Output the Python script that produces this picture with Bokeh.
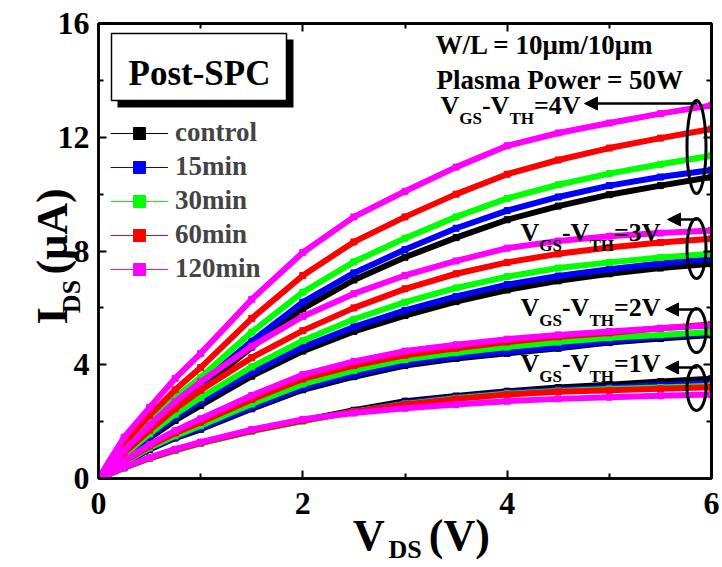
import math

from bokeh.plotting import figure
from bokeh.models import (Range1d, LinearAxis, FixedTicker, Legend, LegendItem,
                          Label, BoxAnnotation, Arrow, NormalHead)
from bokeh.embed import file_html
from bokeh.resources import INLINE

# ---------------------------------------------------------------- data
# drain voltage samples (V)
vds = [0, 0.25, 0.5, 0.75, 1.0, 1.5, 2.0, 2.5, 3.0, 3.5, 4.0, 4.5, 5.0, 5.5, 6.0]

conditions = ["control", "15min", "30min", "60min", "120min"]
colors = ["#000000", "#0000ff", "#00ff00", "#ff0000", "#ff00ff"]

# drain current I_DS (uA), V_GS - V_TH = 4 V
ids_4v_control = [0, 1.00, 1.80, 2.52, 3.15, 4.62, 5.97, 6.98, 7.78, 8.47, 9.10, 9.58, 9.98, 10.30, 10.60]
ids_4v_15min = [0, 1.05, 1.90, 2.67, 3.33, 4.83, 6.20, 7.23, 8.05, 8.80, 9.42, 9.90, 10.30, 10.60, 10.85]
ids_4v_30min = [0, 1.12, 2.03, 2.85, 3.56, 5.15, 6.55, 7.62, 8.45, 9.20, 9.85, 10.33, 10.72, 11.05, 11.35]
ids_4v_60min = [0, 1.25, 2.22, 3.12, 3.90, 5.63, 7.14, 8.32, 9.20, 10.00, 10.70, 11.20, 11.62, 11.97, 12.29]
ids_4v_120min = [0, 1.45, 2.50, 3.52, 4.40, 6.30, 7.95, 9.20, 10.10, 10.95, 11.70, 12.15, 12.50, 12.83, 13.12]

# V_GS - V_TH = 3 V
ids_3v_control = [0, 0.75, 1.42, 2.04, 2.57, 3.60, 4.48, 5.17, 5.73, 6.22, 6.63, 6.95, 7.20, 7.40, 7.55]
ids_3v_15min = [0, 0.78, 1.48, 2.14, 2.70, 3.73, 4.62, 5.33, 5.91, 6.40, 6.82, 7.12, 7.36, 7.56, 7.72]
ids_3v_30min = [0, 0.83, 1.57, 2.26, 2.85, 3.93, 4.85, 5.60, 6.20, 6.70, 7.10, 7.40, 7.60, 7.77, 7.90]
ids_3v_60min = [0, 0.90, 1.70, 2.45, 3.10, 4.25, 5.20, 6.00, 6.67, 7.20, 7.60, 7.90, 8.12, 8.30, 8.43]
ids_3v_120min = [0, 0.98, 1.87, 2.70, 3.40, 4.65, 5.70, 6.50, 7.14, 7.65, 8.10, 8.35, 8.52, 8.63, 8.72]

# V_GS - V_TH = 2 V
ids_2v_control = [0, 0.54, 1.02, 1.42, 1.73, 2.45, 3.12, 3.58, 3.97, 4.22, 4.40, 4.58, 4.78, 4.92, 5.05]
ids_2v_15min = [0, 0.55, 1.04, 1.45, 1.77, 2.50, 3.18, 3.65, 4.03, 4.28, 4.45, 4.62, 4.83, 4.98, 5.10]
ids_2v_30min = [0, 0.57, 1.08, 1.50, 1.86, 2.62, 3.32, 3.80, 4.18, 4.42, 4.62, 4.80, 4.95, 5.05, 5.15]
ids_2v_60min = [0, 0.60, 1.14, 1.60, 1.98, 2.78, 3.50, 3.97, 4.33, 4.58, 4.80, 4.98, 5.12, 5.28, 5.42]
ids_2v_120min = [0, 0.62, 1.20, 1.68, 2.10, 2.92, 3.65, 4.12, 4.48, 4.70, 4.90, 5.05, 5.17, 5.28, 5.38]

# V_GS - V_TH = 1 V
ids_1v_control = [0, 0.38, 0.72, 1.00, 1.25, 1.68, 2.04, 2.40, 2.72, 2.90, 3.07, 3.20, 3.30, 3.41, 3.51]
ids_1v_15min = [0, 0.38, 0.72, 1.00, 1.25, 1.68, 2.03, 2.37, 2.66, 2.86, 3.02, 3.12, 3.20, 3.28, 3.36]
ids_1v_30min = [0, 0.37, 0.71, 0.99, 1.24, 1.67, 2.02, 2.35, 2.62, 2.82, 2.98, 3.08, 3.15, 3.20, 3.26]
ids_1v_60min = [0, 0.38, 0.72, 1.00, 1.25, 1.68, 2.04, 2.35, 2.60, 2.80, 2.95, 3.05, 3.10, 3.16, 3.21]
ids_1v_120min = [0, 0.39, 0.74, 1.03, 1.28, 1.72, 2.08, 2.30, 2.47, 2.60, 2.72, 2.80, 2.86, 2.91, 2.95]

families = [
    [ids_4v_control, ids_3v_control, ids_2v_control, ids_1v_control],
    [ids_4v_15min, ids_3v_15min, ids_2v_15min, ids_1v_15min],
    [ids_4v_30min, ids_3v_30min, ids_2v_30min, ids_1v_30min],
    [ids_4v_60min, ids_3v_60min, ids_2v_60min, ids_1v_60min],
    [ids_4v_120min, ids_3v_120min, ids_2v_120min, ids_1v_120min],
]

x_ticks, x_minor = [0, 2, 4, 6], [1, 3, 5]
y_ticks, y_minor = [0, 4, 8, 12, 16], [2, 6, 10, 14]

# ---------------------------------------------------------------- figure
W, H = 722, 567
B_LEFT, B_RIGHT, B_TOP, B_BOTTOM = 98, 11, 23, 89
PX_PER_V = (W - B_LEFT - B_RIGHT) / 6.0
PX_PER_UA = (H - B_TOP - B_BOTTOM) / 16.0
SERIF = "Liberation Serif"
NB = "\u00a0"

p = figure(width=W, height=H, x_range=Range1d(0, 6), y_range=Range1d(0, 16),
           output_backend="svg", toolbar_location=None,
           min_border_left=B_LEFT, min_border_right=B_RIGHT,
           min_border_top=B_TOP, min_border_bottom=B_BOTTOM)
p.xgrid.visible = False
p.ygrid.visible = False
p.outline_line_color = "black"
p.outline_line_width = 2.5
p.background_fill_color = "white"
p.border_fill_color = "white"


def frame_axis(ax, tick_in, minor_in):
    ax.axis_line_width = 2.5
    ax.major_tick_line_width = 2
    ax.minor_tick_line_width = 2
    ax.major_tick_in = tick_in
    ax.major_tick_out = 0
    ax.minor_tick_in = minor_in
    ax.minor_tick_out = 0
    ax.major_label_standoff = 0


# bottom / left axes with labelled major ticks
bx, ly = p.below[0], p.left[0]
bx.ticker = FixedTicker(ticks=x_ticks, minor_ticks=x_minor)
ly.ticker = FixedTicker(ticks=y_ticks, minor_ticks=y_minor)
for ax in (bx, ly):
    frame_axis(ax, 8, 5)
    ax.major_label_text_font = SERIF
    ax.major_label_text_font_style = "bold"
    ax.major_label_text_font_size = "32px"
    ax.major_label_text_color = "black"
bx.major_label_standoff = 14
ly.major_label_standoff = 9

# mirrored tick marks on the top and right edges (no labels)
for side, major, minor in (("above", x_ticks, x_minor), ("right", y_ticks, y_minor)):
    long_ax = LinearAxis(ticker=FixedTicker(ticks=[], minor_ticks=major))
    frame_axis(long_ax, 8, 8)
    short_ax = LinearAxis(ticker=FixedTicker(ticks=[], minor_ticks=minor))
    frame_axis(short_ax, 5, 5)
    p.add_layout(long_ax, side)
    p.add_layout(short_ax, side)


def title_axis(side, label, size, standoff):
    ax = LinearAxis(ticker=FixedTicker(ticks=[]), axis_label=label,
                    axis_label_standoff=standoff,
                    axis_label_text_font=SERIF,
                    axis_label_text_font_style="bold",
                    axis_label_text_font_size=f"{size}px",
                    axis_label_text_color="black",
                    axis_line_color=None, major_tick_line_color=None,
                    minor_tick_line_color=None, major_label_standoff=0)
    p.add_layout(ax, side)


# axis titles: V_DS (V) and I_DS (uA), subscripts on their own rows
title_axis("below", NB * 3 + "V" + NB * 4 + "(V)", 44, -6)
title_axis("below", "DS", 26, -28)
title_axis("left", "DS" + NB * 14, 26, -31)
title_axis("left", "I" + NB * 3 + "(\u03bcA)" + NB, 44, -23)

# ---------------------------------------------------------------- curves
legend_items = []
for cond, color, curves in zip(conditions, colors, families):
    thin = None
    marks = None
    for ids in curves:
        ln = p.line(vds, ids, line_color=color, line_width=1.2)
        p.line(vds, ids, line_color=color, line_width=6, line_join="round")
        sq = p.scatter(vds, ids, marker="square", size=6,
                       fill_color=color, line_color=color)
        if thin is None:
            thin, marks = ln, sq
    legend_items.append(LegendItem(label=cond, renderers=[thin, marks]))

legend = Legend(items=legend_items, location=(12, 194),
                glyph_width=58, glyph_height=30, label_height=30,
                spacing=3, padding=0, margin=0, label_standoff=7,
                border_line_color=None, background_fill_alpha=0,
                label_text_font=SERIF, label_text_font_style="bold",
                label_text_font_size="27px")
p.add_layout(legend)


# ---------------------------------------------------------------- annotations
def dx(px):
    return px / PX_PER_V


def dy(px):
    return px / PX_PER_UA


def sx(px):
    return (px - B_LEFT) / PX_PER_V


def sy(px):
    return (H - B_BOTTOM - px) / PX_PER_UA


def text(x, base_px, s, size, align="left"):
    # base_px: baseline position in pixels from the top of the canvas
    p.add_layout(Label(x=x, y=sy(base_px - 0.32 * size), text=s, text_font=SERIF,
                       text_font_style="bold", text_font_size=f"{size}px",
                       text_color="black", text_baseline="alphabetic",
                       text_align=align))


EM = {"V": 0.722, "G": 0.778, "S": 0.556, "-": 0.333, "T": 0.667, "H": 0.778,
      "=": 0.570, "1": 0.5, "2": 0.5, "3": 0.5, "4": 0.5}


def overdrive_label(x, base_px, volts):
    parts = [("V", 26, 0), ("GS", 17, 10), ("-V", 26, 0), ("TH", 17, 10),
             (f"={volts}V", 26, 0)]
    for s, size, drop in parts:
        text(x, base_px + drop, s, size)
        x += dx(sum(EM[c] for c in s) * size)


# sample label box with drop shadow
p.add_layout(BoxAnnotation(left=sx(117), right=sx(293), top=sy(39), bottom=sy(107),
                           fill_color="black", fill_alpha=1, line_color=None))
p.add_layout(BoxAnnotation(left=sx(111), right=sx(286), top=sy(33), bottom=sy(100),
                           fill_color="white", fill_alpha=1,
                           line_color="black", line_alpha=1, line_width=1.5))
text(sx(199), 84, "Post-SPC", 35, align="center")

text(sx(435), 53, "W/L = 10\u03bcm/10\u03bcm", 27)
text(sx(436), 88, "Plasma Power = 50W", 27)

# overdrive groups: label start, baseline, arrow tip, arrow y, ellipse centre/size
groups = [
    (4, 440, 113, 584, 103, 146.5, 93),
    (3, 520, 240, 667, 219, 248.0, 60),
    (2, 520, 315, 665, 309, 330.0, 44),
    (1, 520, 371, 665, 367, 387.5, 45),
]
for volts, lx, lb, tip, ay, ecy, eh in groups:
    overdrive_label(sx(lx), lb, volts)
    p.add_layout(Arrow(end=NormalHead(size=13, fill_color="black", line_color="black"),
                       x_start=sx(697), y_start=sy(ay), x_end=sx(tip), y_end=sy(ay),
                       line_color="black", line_width=2.5))
    p.ellipse(x=[sx(696)], y=[sy(ecy)], width=[dx(19)], height=[dy(eh)],
              fill_color=None, line_color="black", line_width=3)

open("out.html", "w").write(file_html(p, INLINE))
